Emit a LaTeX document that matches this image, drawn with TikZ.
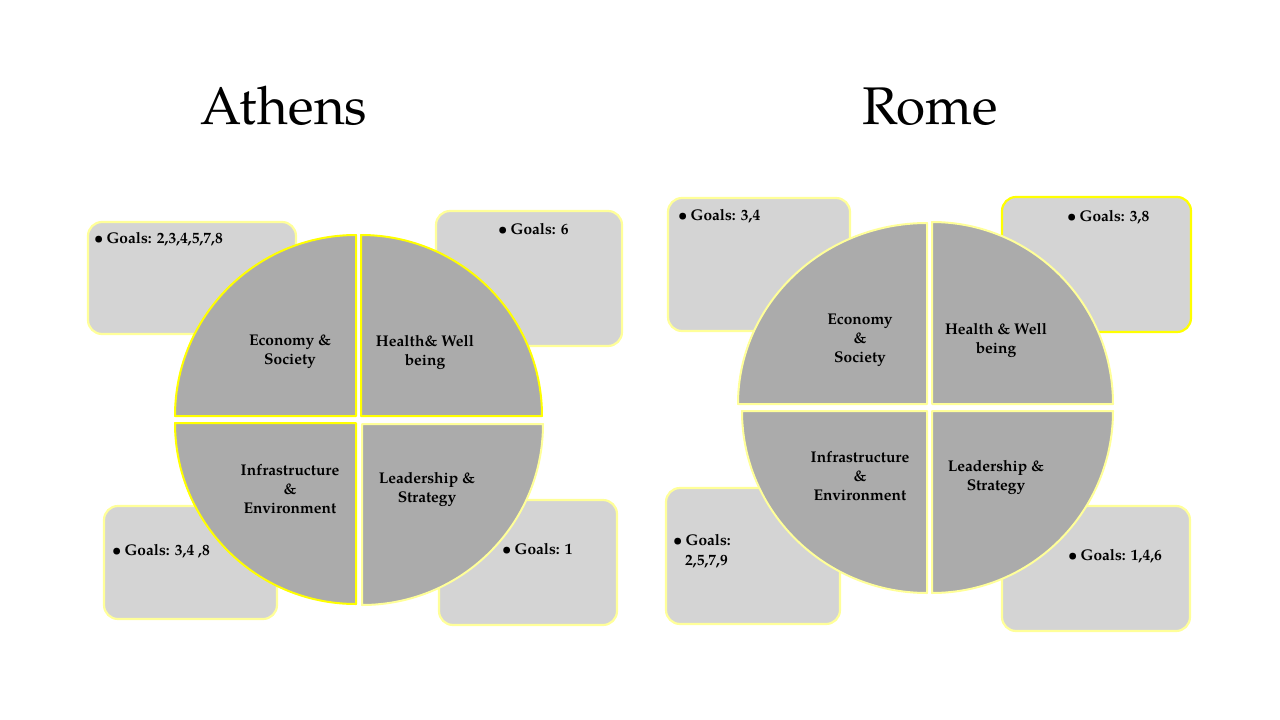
\documentclass[tikz,border=0pt]{standalone}
\usepackage{fontspec}
\setmainfont{TeX Gyre Pagella}
\definecolor{boxgray}{HTML}{D4D4D4}
\definecolor{quadgray}{HTML}{ABABAB}
\definecolor{brightyel}{HTML}{FFFF00}
\definecolor{paleyel}{HTML}{FFFF99}
\newcommand{\gbul}{\textbullet\hspace{0.2em}}
\tikzset{
  goalbox/.style={fill=boxgray, draw=paleyel, line width=2.2pt, rounded corners=14pt},
  quad/.style={fill=quadgray, draw=brightyel, line width=2pt, line join=round},
  quadpale/.style={quad, draw=paleyel},
  quadlabel/.style={align=center, font=\fontsize{15.5}{19}\selectfont\bfseries, inner sep=0pt},
  goaltext/.style={anchor=base west, inner sep=0pt, font=\fontsize{15.5}{19}\selectfont\bfseries},
  titletext/.style={anchor=base, inner sep=0pt, font=\fontsize{53}{60}\selectfont}
}
\begin{document}
\begin{tikzpicture}[x=1pt,y=-1pt]
\useasboundingbox[fill=white] (0,0) rectangle (1280,720);
% ---------- Athens ----------
\node[titletext] (athens) at (284,124) {Athens};
\draw[goalbox] (88,222) rectangle (296,334);
\draw[goalbox] (436,211) rectangle (622,346);
\draw[goalbox] (104,506) rectangle (277,619);
\draw[goalbox] (439,500) rectangle (617,625);
\node[goaltext] (aG1) at (94,243) {\gbul Goals: 2,3,4,5,7,8};
\node[goaltext] (aG2) at (498,234) {\gbul Goals: 6};
\node[goaltext] (aG3) at (112,555) {\gbul Goals: 3,4 ,8};
\node[goaltext] (aG4) at (502,554) {\gbul Goals: 1};
\draw[quad] (356,416) -- ++(-181pt,0pt) arc[start angle=180, end angle=90, radius=181pt] -- cycle;
\draw[quad] (361,416) -- ++(0pt,181pt) arc[start angle=90, end angle=0, radius=181pt] -- cycle;
\draw[quad] (356,423) -- ++(-181pt,0pt) arc[start angle=180, end angle=270, radius=181pt] -- cycle;
\draw[quadpale] (362,424) -- ++(0pt,-181pt) arc[start angle=270, end angle=360, radius=181pt] -- cycle;
\node[quadlabel] (aQ1) at (290,352) {Economy \&\\Society};
\node[quadlabel] (aQ2) at (425,352) {Health\& Well\\being};
\node[quadlabel] (aQ3) at (290,489) {Infrastructure\\\&\\Environment};
\node[quadlabel] (aQ4) at (427,489) {Leadership \&\\Strategy};
% ---------- Rome ----------
\node[titletext] (rome) at (930,124) {Rome};
\draw[goalbox] (668,198) rectangle (850,331);
\draw[goalbox, draw=brightyel] (1002,197) rectangle (1191,332);
\draw[goalbox] (666,488) rectangle (840,624);
\draw[goalbox] (1002,506) rectangle (1190,631);
\node[goaltext] (rG1) at (678,220) {\gbul Goals: 3,4};
\node[goaltext] (rG2) at (1067,221) {\gbul Goals: 3,8};
\node[goaltext] (rG3) at (673,545) {\gbul Goals:};
\node[goaltext] (rG3b) at (685,565) {2,5,7,9};
\node[goaltext] (rG4) at (1068,560) {\gbul Goals: 1,4,6};
\draw[quadpale] (927,404) -- ++(-189pt,0pt) arc[start angle=180, end angle=90, x radius=189pt, y radius=181pt] -- cycle;
\draw[quadpale] (932,404) -- ++(0pt,182pt) arc[start angle=90, end angle=0, x radius=181pt, y radius=182pt] -- cycle;
\draw[quadpale] (927,411) -- ++(-185pt,0pt) arc[start angle=180, end angle=270, x radius=185pt, y radius=182pt] -- cycle;
\draw[quadpale] (932,411) -- ++(0pt,-182pt) arc[start angle=270, end angle=360, x radius=181pt, y radius=182pt] -- cycle;
\node[quadlabel] (rQ1) at (860,340) {Economy\\\&\\Society};
\node[quadlabel] (rQ2) at (996,340) {Health \& Well\\being};
\node[quadlabel] (rQ3) at (860,476) {Infrastructure\\\&\\Environment};
\node[quadlabel] (rQ4) at (996,477) {Leadership \&\\Strategy};
\end{tikzpicture}
\end{document}
